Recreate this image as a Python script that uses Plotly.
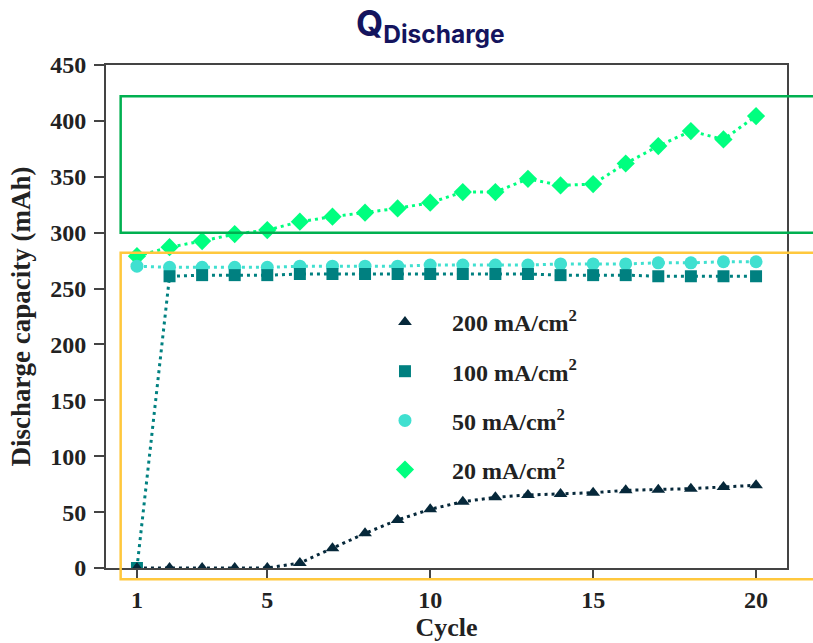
import plotly.graph_objects as go

cycles = list(range(1, 21))
labels = ["200 mA/cm<sup>2</sup>", "100 mA/cm<sup>2</sup>", "50 mA/cm<sup>2</sup>", "20 mA/cm<sup>2</sup>"]

cap_200 = [0, 0, 0, 0, 0, 4.5, 17.6, 31, 43, 52.5, 59.3, 63.2, 65.3, 66.2, 67.4, 69.5, 70, 71, 72.5, 74]
cap_100 = [0, 261, 262, 262, 262, 263, 263, 263, 263, 263, 263, 263, 263, 262, 262, 262, 261, 261, 261, 261]
cap_50 = [270, 269, 269, 269, 269, 270, 270, 270, 270, 271, 271, 271, 271, 272, 272, 272, 273, 273, 274, 274]
cap_20 = [279, 287, 292.5, 298.7, 302.3, 309.8, 314.3, 317.9, 321.7, 326.8, 336.3, 336.3, 348.2, 342.3, 343.5, 361.9, 377.5, 390.9, 383.4, 404.3]

series = [cap_200, cap_100, cap_50, cap_20]
colors = ["#06283a", "#008080", "#40e0d0", "#00ff7f"]
symbols = ["triangle-up", "square", "circle", "diamond"]
sizes = [12, 12, 13, 14]

x_range = [0.05, 20.95]
y_range = [0, 450]
y_ticks = list(range(0, 451, 50))
x_ticks = [1, 5, 10, 15, 20]

# highlight boxes (data units): x start, y bottom, y top
green_box = (0.5, 300, 422)
yellow_box = (0.5, -10, 282)

fig = go.Figure()

for vals, col in zip(series[::-1], colors[::-1]):
    fig.add_trace(go.Scatter(x=cycles, y=vals, mode="lines",
                             line=dict(color=col, width=3, dash="3px,4px"),
                             showlegend=False, hoverinfo="skip"))
for i in [3, 2, 1, 0]:
    fig.add_trace(go.Scatter(x=cycles, y=series[i], mode="markers", name="<b>" + labels[i] + "</b>",
                             marker=dict(symbol=symbols[i], size=sizes[i], color=colors[i]),
                             legendrank=i, legendgroup=str(i)))

def xd(v):
    return (v - x_range[0]) / (x_range[1] - x_range[0])

def yd(v):
    return (v - y_range[0]) / (y_range[1] - y_range[0])

for box, col in [(green_box, "#00b050"), (yellow_box, "#ffc83d")]:
    fig.add_shape(type="rect", xref="x domain", yref="y domain",
                  x0=xd(box[0]), x1=1.2, y0=yd(box[1]), y1=yd(box[2]),
                  line=dict(color=col, width=2.5), fillcolor="rgba(0,0,0,0)", layer="above")

serif = "Liberation Serif"
axis_font = dict(family=serif, size=24, color="#222222")
fig.update_layout(
    width=813, height=643,
    margin=dict(l=106, r=26, t=65, b=75),
    paper_bgcolor="white", plot_bgcolor="white",
    font=dict(family=serif, color="#222222"),
    xaxis=dict(range=x_range, tickvals=x_ticks, ticktext=[f"<b>{t}</b>" for t in x_ticks],
               showgrid=False, zeroline=False, showline=True, mirror=True, automargin=False,
               linecolor="#444444", linewidth=2, ticks="outside", ticklen=9, tickwidth=2,
               tickcolor="#444444", tickfont=axis_font,
               title=dict(text="<b>Cycle</b>", font=dict(family=serif, size=26, color="#222222"), standoff=4)),
    yaxis=dict(range=y_range, tickvals=y_ticks, ticktext=[f"<b>{t}</b>" for t in y_ticks],
               showgrid=False, zeroline=False, showline=True, mirror=True, automargin=False,
               linecolor="#444444", linewidth=2, ticks="outside", ticklen=10, tickwidth=2,
               tickcolor="#444444", tickfont=axis_font, ticklabelstandoff=3,
               title=dict(text="<b>Discharge capacity (mAh)</b>", font=dict(family=serif, size=27, color="#222222"), standoff=12)),
    legend=dict(x=0.37, y=0.533, xanchor="left", yanchor="top", bgcolor="rgba(0,0,0,0)",
                font=dict(family=serif, size=24, color="#222222"),
                tracegroupgap=15, itemwidth=84, traceorder="grouped"),
    showlegend=True,
)

fig.add_annotation(text="<b>Q<sub>Discharge</sub></b>", xref="paper", yref="paper",
                   x=0.476, y=1.0, yshift=14, xanchor="center", yanchor="bottom", showarrow=False,
                   font=dict(family="Inter", size=35, color="#14145e"))

fig.write_html("out.html")
